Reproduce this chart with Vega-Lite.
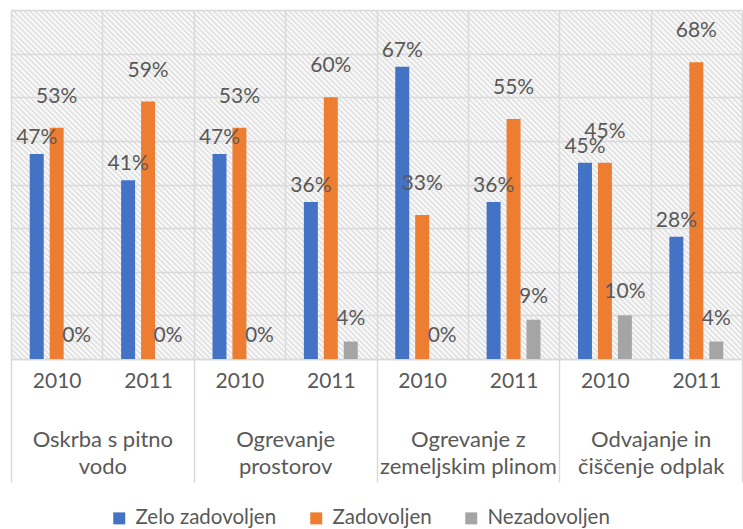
{
  "$schema": "https://vega.github.io/schema/vega-lite/v6.json",
  "width": 731,
  "height": 349,
  "autosize": {"type": "none"},
  "padding": {"left": 11, "top": 10, "right": 1, "bottom": 170},
  "background": "white",
  "config": {
    "font": "Lato",
    "view": {
      "stroke": null,
      "fill": {
        "gradient": "linear", "x1": 0, "y1": 1, "x2": 1.20318, "y2": 0.42557,
        "stops": [
          {"offset":0,"color":"#ddd"},{"offset":0.002,"color":"#fff"},{"offset":0.005,"color":"#ddd"},{"offset":0.007,"color":"#fff"},
          {"offset":0.01,"color":"#ddd"},{"offset":0.012,"color":"#fff"},{"offset":0.015,"color":"#ddd"},{"offset":0.017,"color":"#fff"},
          {"offset":0.02,"color":"#ddd"},{"offset":0.022,"color":"#fff"},{"offset":0.025,"color":"#ddd"},{"offset":0.027,"color":"#fff"},
          {"offset":0.03,"color":"#ddd"},{"offset":0.032,"color":"#fff"},{"offset":0.035,"color":"#ddd"},{"offset":0.037,"color":"#fff"},
          {"offset":0.04,"color":"#ddd"},{"offset":0.042,"color":"#fff"},{"offset":0.045,"color":"#ddd"},{"offset":0.047,"color":"#fff"},
          {"offset":0.05,"color":"#ddd"},{"offset":0.052,"color":"#fff"},{"offset":0.055,"color":"#ddd"},{"offset":0.057,"color":"#fff"},
          {"offset":0.06,"color":"#ddd"},{"offset":0.062,"color":"#fff"},{"offset":0.065,"color":"#ddd"},{"offset":0.067,"color":"#fff"},
          {"offset":0.07,"color":"#ddd"},{"offset":0.072,"color":"#fff"},{"offset":0.075,"color":"#ddd"},{"offset":0.077,"color":"#fff"},
          {"offset":0.08,"color":"#ddd"},{"offset":0.082,"color":"#fff"},{"offset":0.085,"color":"#ddd"},{"offset":0.087,"color":"#fff"},
          {"offset":0.09,"color":"#ddd"},{"offset":0.092,"color":"#fff"},{"offset":0.095,"color":"#ddd"},{"offset":0.097,"color":"#fff"},
          {"offset":0.1,"color":"#ddd"},{"offset":0.102,"color":"#fff"},{"offset":0.105,"color":"#ddd"},{"offset":0.107,"color":"#fff"},
          {"offset":0.11,"color":"#ddd"},{"offset":0.112,"color":"#fff"},{"offset":0.115,"color":"#ddd"},{"offset":0.117,"color":"#fff"},
          {"offset":0.12,"color":"#ddd"},{"offset":0.122,"color":"#fff"},{"offset":0.125,"color":"#ddd"},{"offset":0.127,"color":"#fff"},
          {"offset":0.13,"color":"#ddd"},{"offset":0.132,"color":"#fff"},{"offset":0.135,"color":"#ddd"},{"offset":0.137,"color":"#fff"},
          {"offset":0.14,"color":"#ddd"},{"offset":0.142,"color":"#fff"},{"offset":0.145,"color":"#ddd"},{"offset":0.147,"color":"#fff"},
          {"offset":0.15,"color":"#ddd"},{"offset":0.152,"color":"#fff"},{"offset":0.155,"color":"#ddd"},{"offset":0.157,"color":"#fff"},
          {"offset":0.16,"color":"#ddd"},{"offset":0.162,"color":"#fff"},{"offset":0.165,"color":"#ddd"},{"offset":0.167,"color":"#fff"},
          {"offset":0.17,"color":"#ddd"},{"offset":0.172,"color":"#fff"},{"offset":0.175,"color":"#ddd"},{"offset":0.177,"color":"#fff"},
          {"offset":0.18,"color":"#ddd"},{"offset":0.182,"color":"#fff"},{"offset":0.185,"color":"#ddd"},{"offset":0.187,"color":"#fff"},
          {"offset":0.19,"color":"#ddd"},{"offset":0.192,"color":"#fff"},{"offset":0.195,"color":"#ddd"},{"offset":0.197,"color":"#fff"},
          {"offset":0.2,"color":"#ddd"},{"offset":0.202,"color":"#fff"},{"offset":0.205,"color":"#ddd"},{"offset":0.207,"color":"#fff"},
          {"offset":0.21,"color":"#ddd"},{"offset":0.212,"color":"#fff"},{"offset":0.215,"color":"#ddd"},{"offset":0.217,"color":"#fff"},
          {"offset":0.22,"color":"#ddd"},{"offset":0.222,"color":"#fff"},{"offset":0.225,"color":"#ddd"},{"offset":0.227,"color":"#fff"},
          {"offset":0.23,"color":"#ddd"},{"offset":0.232,"color":"#fff"},{"offset":0.235,"color":"#ddd"},{"offset":0.237,"color":"#fff"},
          {"offset":0.24,"color":"#ddd"},{"offset":0.242,"color":"#fff"},{"offset":0.245,"color":"#ddd"},{"offset":0.247,"color":"#fff"},
          {"offset":0.25,"color":"#ddd"},{"offset":0.252,"color":"#fff"},{"offset":0.255,"color":"#ddd"},{"offset":0.257,"color":"#fff"},
          {"offset":0.26,"color":"#ddd"},{"offset":0.262,"color":"#fff"},{"offset":0.265,"color":"#ddd"},{"offset":0.267,"color":"#fff"},
          {"offset":0.27,"color":"#ddd"},{"offset":0.272,"color":"#fff"},{"offset":0.275,"color":"#ddd"},{"offset":0.277,"color":"#fff"},
          {"offset":0.28,"color":"#ddd"},{"offset":0.282,"color":"#fff"},{"offset":0.285,"color":"#ddd"},{"offset":0.287,"color":"#fff"},
          {"offset":0.29,"color":"#ddd"},{"offset":0.292,"color":"#fff"},{"offset":0.295,"color":"#ddd"},{"offset":0.297,"color":"#fff"},
          {"offset":0.3,"color":"#ddd"},{"offset":0.302,"color":"#fff"},{"offset":0.305,"color":"#ddd"},{"offset":0.307,"color":"#fff"},
          {"offset":0.31,"color":"#ddd"},{"offset":0.312,"color":"#fff"},{"offset":0.315,"color":"#ddd"},{"offset":0.317,"color":"#fff"},
          {"offset":0.32,"color":"#ddd"},{"offset":0.322,"color":"#fff"},{"offset":0.325,"color":"#ddd"},{"offset":0.327,"color":"#fff"},
          {"offset":0.33,"color":"#ddd"},{"offset":0.332,"color":"#fff"},{"offset":0.335,"color":"#ddd"},{"offset":0.337,"color":"#fff"},
          {"offset":0.34,"color":"#ddd"},{"offset":0.342,"color":"#fff"},{"offset":0.345,"color":"#ddd"},{"offset":0.347,"color":"#fff"},
          {"offset":0.35,"color":"#ddd"},{"offset":0.352,"color":"#fff"},{"offset":0.355,"color":"#ddd"},{"offset":0.357,"color":"#fff"},
          {"offset":0.36,"color":"#ddd"},{"offset":0.362,"color":"#fff"},{"offset":0.365,"color":"#ddd"},{"offset":0.367,"color":"#fff"},
          {"offset":0.37,"color":"#ddd"},{"offset":0.372,"color":"#fff"},{"offset":0.375,"color":"#ddd"},{"offset":0.377,"color":"#fff"},
          {"offset":0.38,"color":"#ddd"},{"offset":0.382,"color":"#fff"},{"offset":0.385,"color":"#ddd"},{"offset":0.387,"color":"#fff"},
          {"offset":0.39,"color":"#ddd"},{"offset":0.392,"color":"#fff"},{"offset":0.395,"color":"#ddd"},{"offset":0.397,"color":"#fff"},
          {"offset":0.4,"color":"#ddd"},{"offset":0.402,"color":"#fff"},{"offset":0.405,"color":"#ddd"},{"offset":0.407,"color":"#fff"},
          {"offset":0.41,"color":"#ddd"},{"offset":0.412,"color":"#fff"},{"offset":0.415,"color":"#ddd"},{"offset":0.417,"color":"#fff"},
          {"offset":0.42,"color":"#ddd"},{"offset":0.422,"color":"#fff"},{"offset":0.425,"color":"#ddd"},{"offset":0.427,"color":"#fff"},
          {"offset":0.43,"color":"#ddd"},{"offset":0.432,"color":"#fff"},{"offset":0.435,"color":"#ddd"},{"offset":0.437,"color":"#fff"},
          {"offset":0.44,"color":"#ddd"},{"offset":0.442,"color":"#fff"},{"offset":0.445,"color":"#ddd"},{"offset":0.447,"color":"#fff"},
          {"offset":0.45,"color":"#ddd"},{"offset":0.452,"color":"#fff"},{"offset":0.455,"color":"#ddd"},{"offset":0.457,"color":"#fff"},
          {"offset":0.46,"color":"#ddd"},{"offset":0.462,"color":"#fff"},{"offset":0.465,"color":"#ddd"},{"offset":0.467,"color":"#fff"},
          {"offset":0.47,"color":"#ddd"},{"offset":0.472,"color":"#fff"},{"offset":0.475,"color":"#ddd"},{"offset":0.477,"color":"#fff"},
          {"offset":0.48,"color":"#ddd"},{"offset":0.482,"color":"#fff"},{"offset":0.485,"color":"#ddd"},{"offset":0.487,"color":"#fff"},
          {"offset":0.49,"color":"#ddd"},{"offset":0.492,"color":"#fff"},{"offset":0.495,"color":"#ddd"},{"offset":0.497,"color":"#fff"},
          {"offset":0.5,"color":"#ddd"},{"offset":0.502,"color":"#fff"},{"offset":0.505,"color":"#ddd"},{"offset":0.507,"color":"#fff"},
          {"offset":0.51,"color":"#ddd"},{"offset":0.512,"color":"#fff"},{"offset":0.515,"color":"#ddd"},{"offset":0.517,"color":"#fff"},
          {"offset":0.52,"color":"#ddd"},{"offset":0.522,"color":"#fff"},{"offset":0.525,"color":"#ddd"},{"offset":0.527,"color":"#fff"},
          {"offset":0.53,"color":"#ddd"},{"offset":0.532,"color":"#fff"},{"offset":0.535,"color":"#ddd"},{"offset":0.537,"color":"#fff"},
          {"offset":0.54,"color":"#ddd"},{"offset":0.542,"color":"#fff"},{"offset":0.545,"color":"#ddd"},{"offset":0.547,"color":"#fff"},
          {"offset":0.55,"color":"#ddd"},{"offset":0.552,"color":"#fff"},{"offset":0.555,"color":"#ddd"},{"offset":0.557,"color":"#fff"},
          {"offset":0.56,"color":"#ddd"},{"offset":0.562,"color":"#fff"},{"offset":0.565,"color":"#ddd"},{"offset":0.567,"color":"#fff"},
          {"offset":0.57,"color":"#ddd"},{"offset":0.572,"color":"#fff"},{"offset":0.575,"color":"#ddd"},{"offset":0.577,"color":"#fff"},
          {"offset":0.58,"color":"#ddd"},{"offset":0.582,"color":"#fff"},{"offset":0.585,"color":"#ddd"},{"offset":0.587,"color":"#fff"},
          {"offset":0.59,"color":"#ddd"},{"offset":0.592,"color":"#fff"},{"offset":0.595,"color":"#ddd"},{"offset":0.597,"color":"#fff"},
          {"offset":0.6,"color":"#ddd"},{"offset":0.602,"color":"#fff"},{"offset":0.605,"color":"#ddd"},{"offset":0.607,"color":"#fff"},
          {"offset":0.61,"color":"#ddd"},{"offset":0.612,"color":"#fff"},{"offset":0.615,"color":"#ddd"},{"offset":0.617,"color":"#fff"},
          {"offset":0.62,"color":"#ddd"},{"offset":0.622,"color":"#fff"},{"offset":0.625,"color":"#ddd"},{"offset":0.627,"color":"#fff"},
          {"offset":0.63,"color":"#ddd"},{"offset":0.632,"color":"#fff"},{"offset":0.635,"color":"#ddd"},{"offset":0.637,"color":"#fff"},
          {"offset":0.64,"color":"#ddd"},{"offset":0.642,"color":"#fff"},{"offset":0.645,"color":"#ddd"},{"offset":0.647,"color":"#fff"},
          {"offset":0.65,"color":"#ddd"},{"offset":0.652,"color":"#fff"},{"offset":0.655,"color":"#ddd"},{"offset":0.657,"color":"#fff"},
          {"offset":0.66,"color":"#ddd"},{"offset":0.662,"color":"#fff"},{"offset":0.665,"color":"#ddd"},{"offset":0.667,"color":"#fff"},
          {"offset":0.67,"color":"#ddd"},{"offset":0.672,"color":"#fff"},{"offset":0.675,"color":"#ddd"},{"offset":0.677,"color":"#fff"},
          {"offset":0.68,"color":"#ddd"},{"offset":0.682,"color":"#fff"},{"offset":0.685,"color":"#ddd"},{"offset":0.687,"color":"#fff"},
          {"offset":0.69,"color":"#ddd"},{"offset":0.692,"color":"#fff"},{"offset":0.695,"color":"#ddd"},{"offset":0.697,"color":"#fff"},
          {"offset":0.7,"color":"#ddd"},{"offset":0.702,"color":"#fff"},{"offset":0.705,"color":"#ddd"},{"offset":0.707,"color":"#fff"},
          {"offset":0.71,"color":"#ddd"},{"offset":0.712,"color":"#fff"},{"offset":0.715,"color":"#ddd"},{"offset":0.717,"color":"#fff"},
          {"offset":0.72,"color":"#ddd"},{"offset":0.722,"color":"#fff"},{"offset":0.725,"color":"#ddd"},{"offset":0.727,"color":"#fff"},
          {"offset":0.73,"color":"#ddd"},{"offset":0.732,"color":"#fff"},{"offset":0.735,"color":"#ddd"},{"offset":0.737,"color":"#fff"},
          {"offset":0.74,"color":"#ddd"},{"offset":0.742,"color":"#fff"},{"offset":0.745,"color":"#ddd"},{"offset":0.747,"color":"#fff"},
          {"offset":0.75,"color":"#ddd"},{"offset":0.752,"color":"#fff"},{"offset":0.755,"color":"#ddd"},{"offset":0.757,"color":"#fff"},
          {"offset":0.76,"color":"#ddd"},{"offset":0.762,"color":"#fff"},{"offset":0.765,"color":"#ddd"},{"offset":0.767,"color":"#fff"},
          {"offset":0.77,"color":"#ddd"},{"offset":0.772,"color":"#fff"},{"offset":0.775,"color":"#ddd"},{"offset":0.777,"color":"#fff"},
          {"offset":0.78,"color":"#ddd"},{"offset":0.782,"color":"#fff"},{"offset":0.785,"color":"#ddd"},{"offset":0.787,"color":"#fff"},
          {"offset":0.79,"color":"#ddd"},{"offset":0.792,"color":"#fff"},{"offset":0.795,"color":"#ddd"},{"offset":0.797,"color":"#fff"},
          {"offset":0.8,"color":"#ddd"},{"offset":0.802,"color":"#fff"},{"offset":0.805,"color":"#ddd"},{"offset":0.807,"color":"#fff"},
          {"offset":0.81,"color":"#ddd"},{"offset":0.812,"color":"#fff"},{"offset":0.815,"color":"#ddd"},{"offset":0.817,"color":"#fff"},
          {"offset":0.82,"color":"#ddd"},{"offset":0.822,"color":"#fff"},{"offset":0.825,"color":"#ddd"},{"offset":0.827,"color":"#fff"},
          {"offset":0.83,"color":"#ddd"},{"offset":0.832,"color":"#fff"},{"offset":0.835,"color":"#ddd"},{"offset":0.837,"color":"#fff"},
          {"offset":0.84,"color":"#ddd"},{"offset":0.842,"color":"#fff"},{"offset":0.845,"color":"#ddd"},{"offset":0.847,"color":"#fff"},
          {"offset":0.85,"color":"#ddd"},{"offset":0.852,"color":"#fff"},{"offset":0.855,"color":"#ddd"},{"offset":0.857,"color":"#fff"},
          {"offset":0.86,"color":"#ddd"},{"offset":0.862,"color":"#fff"},{"offset":0.865,"color":"#ddd"},{"offset":0.867,"color":"#fff"},
          {"offset":0.87,"color":"#ddd"},{"offset":0.872,"color":"#fff"},{"offset":0.875,"color":"#ddd"},{"offset":0.877,"color":"#fff"},
          {"offset":0.88,"color":"#ddd"},{"offset":0.882,"color":"#fff"},{"offset":0.885,"color":"#ddd"},{"offset":0.887,"color":"#fff"},
          {"offset":0.89,"color":"#ddd"},{"offset":0.892,"color":"#fff"},{"offset":0.895,"color":"#ddd"},{"offset":0.897,"color":"#fff"},
          {"offset":0.9,"color":"#ddd"},{"offset":0.902,"color":"#fff"},{"offset":0.905,"color":"#ddd"},{"offset":0.907,"color":"#fff"},
          {"offset":0.91,"color":"#ddd"},{"offset":0.912,"color":"#fff"},{"offset":0.915,"color":"#ddd"},{"offset":0.917,"color":"#fff"},
          {"offset":0.92,"color":"#ddd"},{"offset":0.922,"color":"#fff"},{"offset":0.925,"color":"#ddd"},{"offset":0.927,"color":"#fff"},
          {"offset":0.93,"color":"#ddd"},{"offset":0.932,"color":"#fff"},{"offset":0.935,"color":"#ddd"},{"offset":0.937,"color":"#fff"},
          {"offset":0.94,"color":"#ddd"},{"offset":0.942,"color":"#fff"},{"offset":0.945,"color":"#ddd"},{"offset":0.947,"color":"#fff"},
          {"offset":0.95,"color":"#ddd"},{"offset":0.952,"color":"#fff"},{"offset":0.955,"color":"#ddd"},{"offset":0.957,"color":"#fff"},
          {"offset":0.96,"color":"#ddd"},{"offset":0.962,"color":"#fff"},{"offset":0.965,"color":"#ddd"},{"offset":0.967,"color":"#fff"},
          {"offset":0.97,"color":"#ddd"},{"offset":0.972,"color":"#fff"},{"offset":0.975,"color":"#ddd"},{"offset":0.977,"color":"#fff"},
          {"offset":0.98,"color":"#ddd"},{"offset":0.982,"color":"#fff"},{"offset":0.985,"color":"#ddd"},{"offset":0.987,"color":"#fff"},
          {"offset":0.99,"color":"#ddd"},{"offset":0.992,"color":"#fff"},{"offset":0.995,"color":"#ddd"},{"offset":0.997,"color":"#fff"}
        ]
      }
    },
    "legend": {"labelFont": "Lato"}
  },
  "data": {
    "values": [
      {"group": "Oskrba s pitno vodo", "year": "2010", "cat": "Oskrba s pitno vodo|2010", "series": "Zelo zadovoljen", "value": 0.47},
      {"group": "Oskrba s pitno vodo", "year": "2010", "cat": "Oskrba s pitno vodo|2010", "series": "Zadovoljen", "value": 0.53},
      {"group": "Oskrba s pitno vodo", "year": "2010", "cat": "Oskrba s pitno vodo|2010", "series": "Nezadovoljen", "value": 0},
      {"group": "Oskrba s pitno vodo", "year": "2011", "cat": "Oskrba s pitno vodo|2011", "series": "Zelo zadovoljen", "value": 0.41},
      {"group": "Oskrba s pitno vodo", "year": "2011", "cat": "Oskrba s pitno vodo|2011", "series": "Zadovoljen", "value": 0.59},
      {"group": "Oskrba s pitno vodo", "year": "2011", "cat": "Oskrba s pitno vodo|2011", "series": "Nezadovoljen", "value": 0},
      {"group": "Ogrevanje prostorov", "year": "2010", "cat": "Ogrevanje prostorov|2010", "series": "Zelo zadovoljen", "value": 0.47},
      {"group": "Ogrevanje prostorov", "year": "2010", "cat": "Ogrevanje prostorov|2010", "series": "Zadovoljen", "value": 0.53},
      {"group": "Ogrevanje prostorov", "year": "2010", "cat": "Ogrevanje prostorov|2010", "series": "Nezadovoljen", "value": 0},
      {"group": "Ogrevanje prostorov", "year": "2011", "cat": "Ogrevanje prostorov|2011", "series": "Zelo zadovoljen", "value": 0.36},
      {"group": "Ogrevanje prostorov", "year": "2011", "cat": "Ogrevanje prostorov|2011", "series": "Zadovoljen", "value": 0.60},
      {"group": "Ogrevanje prostorov", "year": "2011", "cat": "Ogrevanje prostorov|2011", "series": "Nezadovoljen", "value": 0.04},
      {"group": "Ogrevanje z zemeljskim plinom", "year": "2010", "cat": "Ogrevanje z zemeljskim plinom|2010", "series": "Zelo zadovoljen", "value": 0.67},
      {"group": "Ogrevanje z zemeljskim plinom", "year": "2010", "cat": "Ogrevanje z zemeljskim plinom|2010", "series": "Zadovoljen", "value": 0.33},
      {"group": "Ogrevanje z zemeljskim plinom", "year": "2010", "cat": "Ogrevanje z zemeljskim plinom|2010", "series": "Nezadovoljen", "value": 0},
      {"group": "Ogrevanje z zemeljskim plinom", "year": "2011", "cat": "Ogrevanje z zemeljskim plinom|2011", "series": "Zelo zadovoljen", "value": 0.36},
      {"group": "Ogrevanje z zemeljskim plinom", "year": "2011", "cat": "Ogrevanje z zemeljskim plinom|2011", "series": "Zadovoljen", "value": 0.55},
      {"group": "Ogrevanje z zemeljskim plinom", "year": "2011", "cat": "Ogrevanje z zemeljskim plinom|2011", "series": "Nezadovoljen", "value": 0.09},
      {"group": "Odvajanje in čiščenje odplak", "year": "2010", "cat": "Odvajanje in čiščenje odplak|2010", "series": "Zelo zadovoljen", "value": 0.45},
      {"group": "Odvajanje in čiščenje odplak", "year": "2010", "cat": "Odvajanje in čiščenje odplak|2010", "series": "Zadovoljen", "value": 0.45},
      {"group": "Odvajanje in čiščenje odplak", "year": "2010", "cat": "Odvajanje in čiščenje odplak|2010", "series": "Nezadovoljen", "value": 0.10},
      {"group": "Odvajanje in čiščenje odplak", "year": "2011", "cat": "Odvajanje in čiščenje odplak|2011", "series": "Zelo zadovoljen", "value": 0.28},
      {"group": "Odvajanje in čiščenje odplak", "year": "2011", "cat": "Odvajanje in čiščenje odplak|2011", "series": "Zadovoljen", "value": 0.68},
      {"group": "Odvajanje in čiščenje odplak", "year": "2011", "cat": "Odvajanje in čiščenje odplak|2011", "series": "Nezadovoljen", "value": 0.04}
    ]
  },
  "layer": [
    {
      "encoding": {
        "x": {
          "field": "cat", "type": "nominal", "sort": null,
          "scale": {"paddingInner": 0, "paddingOuter": 0},
          "axis": {
            "orient": "bottom", "title": null, "labelAngle": 0,
            "labelExpr": "datum.value ? split(datum.value, '|')[1] : ''",
            "ticks": false, "grid": true, "tickBand": "extent",
            "gridColor": "#d9d9d9", "gridWidth": 1.5,
            "domainColor": "#d9d9d9", "domainWidth": 1.5,
            "labelFont": "Lato", "labelFontSize": 21, "labelColor": "#595959",
            "labelPadding": 11, "labelBaseline": "top"
          }
        },
        "xOffset": {
          "field": "series", "type": "nominal",
          "sort": ["Zelo zadovoljen", "Zadovoljen", "Nezadovoljen"],
          "scale": {"paddingInner": 0.3, "paddingOuter": 0.94}
        },
        "y": {
          "field": "value", "type": "quantitative",
          "scale": {"domain": [0, 0.8], "nice": false},
          "axis": {
            "title": null, "labels": false, "ticks": false, "domain": false,
            "grid": true, "gridColor": "#d9d9d9", "gridWidth": 1.5,
            "values": [0, 0.1, 0.2, 0.3, 0.4, 0.5, 0.6, 0.7, 0.8]
          }
        }
      },
      "layer": [
        {
          "mark": {"type": "bar"},
          "encoding": {
            "color": {
              "field": "series", "type": "nominal",
              "scale": {
                "domain": ["Zelo zadovoljen", "Zadovoljen", "Nezadovoljen"],
                "range": ["#4472c4", "#ed7d31", "#a5a5a5"]
              },
              "legend": {
                "title": null, "orient": "none", "legendX": 98, "legendY": 498,
                "direction": "horizontal",
                "symbolType": "square", "symbolSize": 144, "symbolStrokeWidth": 0,
                "labelFontSize": 20.5, "labelColor": "#595959", "labelFont": "Lato",
                "labelOffset": 6, "columnPadding": 29
              }
            }
          }
        },
        {
          "transform": [{"filter": "datum.series == 'Zelo zadovoljen'"}],
          "mark": {"type": "text", "dy": -16, "fontSize": 21, "color": "#595959", "baseline": "middle", "font": "Lato"},
          "encoding": {"text": {"field": "value", "type": "quantitative", "format": ".0%"}}
        },
        {
          "transform": [{"filter": "datum.series == 'Zadovoljen'"}],
          "mark": {"type": "text", "dy": -31, "fontSize": 21, "color": "#595959", "baseline": "middle", "font": "Lato"},
          "encoding": {"text": {"field": "value", "type": "quantitative", "format": ".0%"}}
        },
        {
          "transform": [{"filter": "datum.series == 'Nezadovoljen'"}],
          "mark": {"type": "text", "dy": -23, "fontSize": 21, "color": "#595959", "baseline": "middle", "font": "Lato"},
          "encoding": {"text": {"field": "value", "type": "quantitative", "format": ".0%"}}
        }
      ]
    },
    {
      "mark": {"type": "tick", "opacity": 0},
      "encoding": {
        "x": {
          "field": "group", "type": "nominal", "sort": null,
          "scale": {"paddingInner": 0, "paddingOuter": 0},
          "axis": {
            "orient": "bottom", "title": null, "labelAngle": 0,
            "tickBand": "extent", "tickSize": 123, "tickColor": "#d9d9d9", "tickWidth": 1.5,
            "domain": false, "grid": false,
            "labelExpr": "datum.value == 'Oskrba s pitno vodo' ? ['Oskrba s pitno', 'vodo'] : datum.value == 'Ogrevanje prostorov' ? ['Ogrevanje', 'prostorov'] : datum.value == 'Ogrevanje z zemeljskim plinom' ? ['Ogrevanje z', 'zemeljskim plinom'] : datum.value == 'Odvajanje in čiščenje odplak' ? ['Odvajanje in', 'čiščenje odplak'] : ''",
            "labelPadding": -53, "labelLineHeight": 27, "labelBaseline": "top",
            "labelFont": "Lato", "labelFontSize": 22, "labelColor": "#595959"
          }
        },
        "y": {"field": "value", "type": "quantitative"}
      }
    }
  ],
  "resolve": {"scale": {"x": "independent"}, "axis": {"x": "independent"}}
}
